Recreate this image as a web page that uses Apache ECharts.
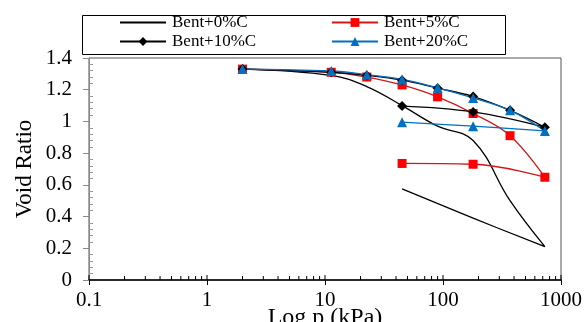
<!DOCTYPE html>
<html>
<head>
<meta charset="utf-8">
<script src="https://cdn.jsdelivr.net/npm/echarts@6/dist/echarts.min.js"></script>
<style>html,body{margin:0;padding:0;background:#fff}#c{width:585px;height:322px}</style>
</head>
<body>
<div id="c"></div>
<script>
// ---- data ----
const seriesNames = ['Bent+0%C', 'Bent+5%C', 'Bent+10%C', 'Bent+20%C'];
const loadP = [2, 11.3, 22.6, 45, 90, 180, 370, 730];
const unloadP = [180, 45];
const e0Load = [1.33, 1.29, 1.22, 1.10, 0.97, 0.88, 0.50, 0.21];
const e0Unload = [0.39, 0.575];
const e5Load = [1.33, 1.31, 1.28, 1.23, 1.155, 1.05, 0.91, 0.648];
const e5Unload = [0.73, 0.735];
const e10Load = [1.33, 1.31, 1.29, 1.26, 1.21, 1.157, 1.07, 0.963];
const e10Unload = [1.06, 1.097];
const e20Load = [1.33, 1.318, 1.295, 1.265, 1.212, 1.148, 1.07, 0.94];
const e20Unload = [0.97, 0.995];
const xMajorTicks = [0.1, 1, 10, 100, 1000];
const xMinorTicks = [0.2, 0.3, 0.4, 0.5, 0.6, 0.7, 0.8, 0.9,
                     2, 3, 4, 5, 6, 7, 8, 9,
                     20, 30, 40, 50, 60, 70, 80, 90,
                     200, 300, 400, 500, 600, 700, 800, 900];

function pairs(load, unload) {
  const out = [];
  loadP.forEach((p, i) => out.push([p, load[i]]));
  unloadP.forEach((p, i) => out.push([p, unload[i]]));
  return out;
}

const FONT = 'Liberation Serif';
const chart = echarts.init(document.getElementById('c'), null, {renderer: 'canvas'});

const tickData = xMajorTicks.map(v => [v, 1]).concat(xMinorTicks.map(v => [v, 0]));

chart.setOption({
  animation: false,
  backgroundColor: '#fff',
  graphic: [{
    type: 'rect', left: 80, top: 13,
    shape: {width: 423, height: 39},
    style: {fill: 'none', stroke: '#000', lineWidth: 1}, z: 100
  }],
  legend: [{
    data: [{name: seriesNames[0], itemStyle: {opacity: 0}}, seriesNames[2]],
    orient: 'vertical', left: 119, top: 14, padding: 0,
    itemWidth: 46, itemHeight: 11, itemGap: 2,
    textStyle: {fontFamily: FONT, fontSize: 17, color: '#000', padding: [0,0,0,1]}
  }, {
    data: [seriesNames[1], seriesNames[3]],
    orient: 'vertical', left: 331, top: 14, padding: 0,
    itemWidth: 46, itemHeight: 11, itemGap: 2,
    textStyle: {fontFamily: FONT, fontSize: 17, color: '#000', padding: [0,0,0,1]}
  }],
  grid: {left: 89, right: 24, top: 58, bottom: 42, show: true, borderColor: '#555', borderWidth: 1,
    containLabel: false, outerBoundsMode: 'none'},
  xAxis: {
    type: 'log', logBase: 10, min: 0.1, max: 1000,
    name: 'Log p (kPa)', nameLocation: 'middle', nameGap: 26, nameMoveOverlap: false,
    nameTextStyle: {fontFamily: FONT, fontSize: 24, color: '#000'},
    axisLine: {lineStyle: {color: '#000', width: 1.5}},
    axisTick: {show: true, inside: false, length: 5, lineStyle: {color: '#000'}},
    axisLabel: {fontFamily: FONT, fontSize: 21, color: '#000', margin: 10,
      formatter: v => String(v)},
    splitLine: {show: false}, minorTick: {show: false}
  },
  yAxis: [{
    type: 'value', min: 0, max: 1.4, interval: 0.2,
    name: 'Void Ratio', nameLocation: 'middle', nameGap: 53, nameMoveOverlap: false,
    nameTextStyle: {fontFamily: FONT, fontSize: 23, color: '#000'},
    axisLine: {show: true, lineStyle: {color: '#888'}},
    axisTick: {show: true, inside: false, length: 6, lineStyle: {color: '#888'}},
    axisLabel: {fontFamily: FONT, fontSize: 21, color: '#000', margin: 17},
    splitLine: {show: false}
  }, {
    type: 'value', min: 0, max: 1.4, interval: 0.2, position: 'left',
    axisLine: {show: false}, axisLabel: {show: false}, splitLine: {show: false},
    axisTick: {show: false, inside: true},
    minorTick: {show: true, splitNumber: 5, length: 4, lineStyle: {color: '#999'}}
  }],
  series: [{
    name: seriesNames[0], type: 'line', smooth: 0.4, symbol: 'none',
    data: pairs(e0Load, e0Unload),
    lineStyle: {color: '#000', width: 1.3}, itemStyle: {color: '#000'}
  }, {
    name: seriesNames[1], type: 'line', smooth: 0.4, symbol: 'rect', symbolSize: 9,
    data: pairs(e5Load, e5Unload),
    lineStyle: {color: '#D01818', width: 1.3}, itemStyle: {color: '#FF0000'}
  }, {
    name: seriesNames[2], type: 'line', smooth: 0.4, symbol: 'diamond', symbolSize: 10,
    data: pairs(e10Load, e10Unload),
    lineStyle: {color: '#000', width: 1.3}, itemStyle: {color: '#000'}
  }, {
    name: seriesNames[3], type: 'line', smooth: 0.4, symbol: 'triangle', symbolSize: 10,
    data: pairs(e20Load, e20Unload),
    lineStyle: {color: '#0070C0', width: 1.3}, itemStyle: {color: '#0070C0'}
  }, {
    type: 'custom', silent: true, clip: false, z: 5,
    data: tickData,
    renderItem: function (params, api) {
      const p = api.coord([api.value(0), 0]);
      const len = api.value(1) ? 5 : 4;
      return {type: 'line', shape: {x1: p[0], y1: p[1], x2: p[0], y2: p[1] - len},
        style: {stroke: '#000', lineWidth: 1}};
    }
  }]
});
</script>
</body>
</html>
